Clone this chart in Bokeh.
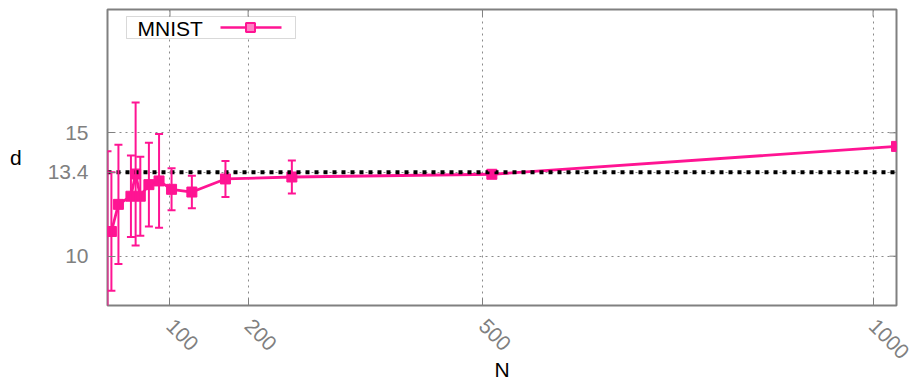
import math

from bokeh.embed import file_html
from bokeh.models import (BoxAnnotation, ColumnDataSource, FixedTicker, Label,
                          Range1d, Span, TeeHead, Whisker)
from bokeh.plotting import figure
from bokeh.resources import INLINE

# Estimated intrinsic dimension d versus sample size N (MNIST)
n_samples = [20, 25, 34, 50, 56, 62, 73, 86, 102, 128, 171, 256, 512, 1030]
d_mean = [11.0, 11.0, 12.1, 12.43, 13.33, 12.43, 12.9, 13.05, 12.71, 12.6,
          13.13, 13.21, 13.32, 14.45]
d_err = [3.25, 2.4, 2.42, 1.65, 2.9, 1.6, 1.7, 1.9, 0.85, 0.66, 0.73, 0.67,
         0.15, 0.1]
reference_d = 13.4
x_ticks = [100, 200, 500, 1000]
y_ticks = [10, 13.4, 15]
series_name = "MNIST"

PINK = "#ff1493"
GRAY = "#808080"
FONT = "Liberation Sans"
FS = "21px"
TICK_LEN = 7

W, H = 910, 385
LEFT, RIGHT, TOP, BOTTOM = 107, 14, 9, 80
x0, x1 = n_samples[0], n_samples[-1]
y0, y1 = 8, 20

p = figure(width=W, height=H, output_backend="svg", toolbar_location=None,
           x_range=Range1d(x0, x1), y_range=Range1d(y0, y1),
           min_border_left=LEFT, min_border_right=RIGHT,
           min_border_top=TOP, min_border_bottom=BOTTOM)
p.background_fill_color = "white"
p.border_fill_color = "white"
p.outline_line_color = GRAY
p.outline_line_width = 2
p.outline_line_alpha = 1.0

# frame geometry -> helpers for placing decorations in data space
fw = W - LEFT - RIGHT
fh = H - TOP - BOTTOM


def sx(px):
    return x0 + (px - LEFT) * (x1 - x0) / fw


def sy(py):
    return y1 - (py - TOP) * (y1 - y0) / fh


# axes
for ax in (p.xaxis[0], p.yaxis[0]):
    ax.axis_line_color = None
    ax.major_tick_in = TICK_LEN
    ax.major_tick_out = 0
    ax.major_tick_line_color = GRAY
    ax.major_tick_line_width = 1
    ax.minor_tick_line_color = None
    ax.major_label_text_color = GRAY
    ax.major_label_text_font = FONT
    ax.major_label_text_font_size = FS

p.xaxis.ticker = FixedTicker(ticks=x_ticks)
p.xaxis.major_label_orientation = -math.pi / 4
p.xaxis.major_label_standoff = 17
p.xaxis.axis_label = "N"
p.xaxis.axis_label_text_font = FONT
p.xaxis.axis_label_text_font_size = FS
p.xaxis.axis_label_text_font_style = "normal"
p.xaxis.axis_label_text_color = "black"
p.xaxis.axis_label_standoff = -10

p.yaxis.ticker = FixedTicker(ticks=y_ticks)
p.yaxis.major_label_overrides = {10: "10", 13.4: "13.4", 15: "15"}
p.yaxis.major_label_standoff = 19
p.yaxis.axis_label = "d"
p.yaxis.axis_label_orientation = "horizontal"
p.yaxis.axis_label_text_font = FONT
p.yaxis.axis_label_text_font_size = FS
p.yaxis.axis_label_text_font_style = "normal"
p.yaxis.axis_label_text_color = "black"
p.yaxis.axis_label_standoff = 23

# mirrored tick marks on the top and right edges
p.segment(x0=x_ticks, y0=[y1] * len(x_ticks),
          x1=x_ticks, y1=[sy(TOP + TICK_LEN)] * len(x_ticks),
          line_color=GRAY, line_width=1)
p.segment(x0=[x1] * len(y_ticks), y0=y_ticks,
          x1=[sx(W - RIGHT - TICK_LEN)] * len(y_ticks), y1=y_ticks,
          line_color=GRAY, line_width=1)

# dotted grid
for g, ticks in ((p.xgrid[0], x_ticks), (p.ygrid[0], y_ticks)):
    g.ticker = FixedTicker(ticks=ticks)
    g.grid_line_color = "#8a8a8a"
    g.grid_line_width = 1
    g.grid_line_dash = "2 4"

# reference level
p.add_layout(Span(location=reference_d, dimension="width", line_color="black",
                  line_width=4, line_dash="4 5", level="glyph"))

src = ColumnDataSource(dict(
    n=n_samples, d=d_mean,
    lo=[m - e for m, e in zip(d_mean, d_err)],
    hi=[m + e for m, e in zip(d_mean, d_err)],
))

p.add_layout(Whisker(base="n", lower="lo", upper="hi", source=src,
                     line_color=PINK, line_width=2, level="glyph",
                     upper_head=TeeHead(size=8, line_color=PINK, line_width=2),
                     lower_head=TeeHead(size=8, line_color=PINK, line_width=2)))
p.line("n", "d", source=src, line_color=PINK, line_width=2.8)
p.scatter("n", "d", source=src, marker="square", size=10,
          fill_color=PINK, line_color=PINK)

# legend box: label first, then the line/marker key
p.add_layout(BoxAnnotation(left=sx(126), right=sx(295), top=sy(16), bottom=sy(38),
                           fill_color="white", fill_alpha=1.0,
                           line_color=GRAY, line_width=1, level="underlay"))
p.add_layout(Label(x=sx(137), y=sy(27.5), text=series_name,
                   text_font=FONT, text_font_size=FS,
                   text_color="black", text_align="left",
                   text_baseline="middle"))
p.line([sx(220), sx(281)], [sy(27), sy(27)], line_color=PINK, line_width=2.5)
p.scatter([sx(250)], [sy(27)], marker="square", size=9,
          fill_color="#ff80c4", line_color=PINK, line_width=2)

open("out.html", "w").write(file_html(p, INLINE))
